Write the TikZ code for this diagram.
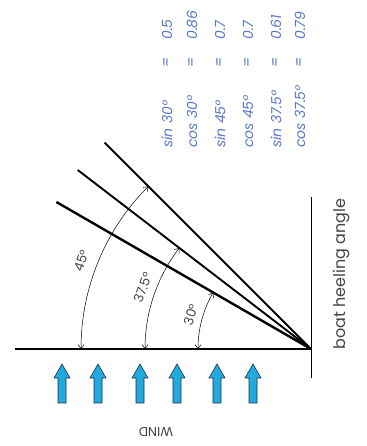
\documentclass[tikz,border=0pt]{standalone}
\usepackage{fontspec}
\setmainfont{Poppins}
\usepackage{tikz}
\usetikzlibrary{arrows.meta,calc}
\definecolor{tableblue}{RGB}{90,120,205}
\definecolor{windcyan}{RGB}{35,170,220}
\definecolor{windedge}{RGB}{25,45,85}
\definecolor{labelgray}{RGB}{70,70,70}

\begin{document}
\begin{tikzpicture}[x=1pt,y=1pt,>={Straight Barb[length=4pt,width=6pt]}]
\tikzstyle{heel}=[line width=1.9pt]
\tikzstyle{angarc}=[<->,line width=0.5pt]
\tikzstyle{anglabel}=[font=\fontsize{13}{13}\selectfont,text=labelgray,inner sep=1pt]
\tikzstyle{trig}=[rotate=90,font=\fontsize{14}{14}\selectfont\itshape,text=tableblue,inner sep=0pt,anchor=west]
\tikzstyle{windarrow}=[fill=windcyan,draw=windedge,line width=0.6pt,line join=miter]
\useasboundingbox (0,0) rectangle (366,446);
\fill[white] (0,0) rectangle (366,446);
\coordinate (V) at (311,97);
\coordinate (deck) at (15,97);
\coordinate (mast top) at (311,249);
\coordinate (mast bot) at (311,68);
\coordinate (h30) at ($(V)+(150:294)$);
\coordinate (h37) at ($(V)+(142.5:294)$);
\coordinate (h45) at ($(V)+(135:292)$);
\draw[line width=2.6pt] (deck) -- (V);
\draw[line width=1pt] (mast top) -- (mast bot);
\draw[heel,line width=2.4pt] (V) -- (h30);
\draw[heel] (V) -- (h37);
\draw[heel] (V) -- (h45);
\draw[angarc] ($(V)+(180:113)$) arc[start angle=180,end angle=150,radius=113];
\draw[angarc] ($(V)+(180:166)$) arc[start angle=180,end angle=142.5,radius=166];
\draw[angarc] ($(V)+(180:230)$) arc[start angle=180,end angle=135,radius=230];
\node[anglabel,rotate=72] (lab30) at ($(V)+(164:125)$) {30°};
\node[anglabel,rotate=70] (lab37) at ($(V)+(160:179)$) {37.5°};
\node[anglabel,rotate=70] (lab45) at ($(V)+(159:246)$) {45°};
\foreach \x/\fn/\val [count=\i] in {167/sin 30°/0.5, 192/cos 30°/0.86, 220/sin 45°/0.7, 248/cos 45°/0.7, 276/sin 37.5°/0.61, 300/cos 37.5°/0.79}
{
\node[trig] (fn\i) at (\x,298) {\fn};
\node[trig,anchor=center] (eq\i) at (\x,384) {=};
\node[trig] (val\i) at (\x,406) {\val};
}
\foreach \x in {62,98,140,177,217,253}
\draw[windarrow] (\x-4,43) -- (\x+4,43) -- (\x+4,68) -- (\x+8,68) -- (\x,82) -- (\x-8,68) -- (\x-4,68) -- cycle;
\node[rotate=180,font=\fontsize{13}{13}\selectfont,text=labelgray] (wind) at (156,14) {WIND};
\node[rotate=90,anchor=base west,font=\fontsize{16}{16}\selectfont,text=labelgray,inner sep=0pt] (heeling) at (345,96) {boat heeling angle};
\end{tikzpicture}
\end{document}
